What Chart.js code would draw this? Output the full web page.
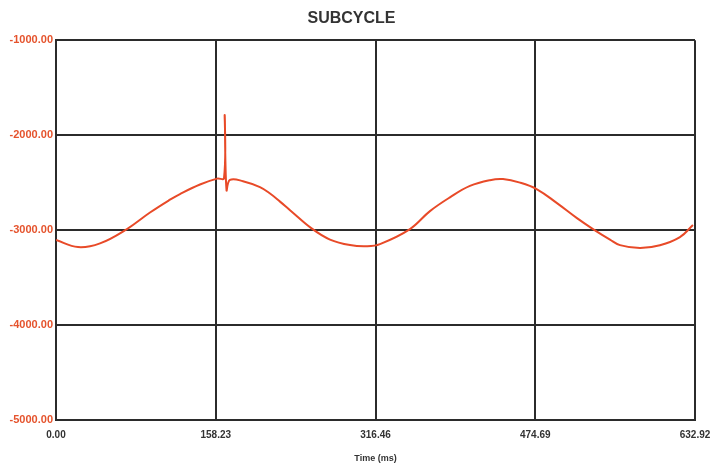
<!DOCTYPE html>
<html>
<head>
<meta charset="utf-8">
<script src="https://cdn.jsdelivr.net/npm/chart.js@4/dist/chart.umd.min.js"></script>
<style>
  html, body { margin: 0; padding: 0; background: #ffffff; }
  #wrap { width: 710px; height: 464px; position: relative; }
</style>
</head>
<body>
<div id="wrap"><canvas id="c" width="710" height="464"></canvas></div>
<script>
// Time (ms) and value samples
const timeMs = [0, 21.8, 43.6, 70.3, 93.1, 112.9, 122.8, 142.6, 159.5, 166.4, 167.1, 168.9, 172.3, 185.2, 202.0, 212.0, 221.9, 231.8, 253.5, 271.4, 291.2, 308.0, 320.9, 350.6, 370.4, 390.2, 410.0, 429.8, 442.7, 459.6, 476.4, 496.2, 516.0, 531.9, 548.7, 558.6, 578.4, 598.2, 618.0, 630.9];
const values = [-3105, -3179, -3140, -2989, -2815, -2680, -2620, -2520, -2458, -2452, -1789, -2579, -2472, -2485, -2548, -2615, -2700, -2790, -2985, -3100, -3158, -3170, -3147, -2989, -2800, -2655, -2535, -2474, -2463, -2500, -2570, -2716, -2874, -2989, -3100, -3158, -3189, -3160, -3074, -2947];
const xTicks = [0, 158.23, 316.46, 474.69, 632.92];
const yTicks = [-5000, -4000, -3000, -2000, -1000];

const points = timeMs.map((t, i) => ({ x: t, y: values[i] }));

new Chart(document.getElementById('c'), {
  type: 'line',
  data: {
    datasets: [{
      data: points,
      borderColor: '#e84a28',
      borderWidth: 2,
      pointRadius: 0,
      tension: 0.4,
      fill: false
    }]
  },
  options: {
    responsive: false,
    animation: false,
    layout: { padding: { left: 8, right: 15, top: 0, bottom: 0 } },
    plugins: {
      legend: { display: false },
      tooltip: { enabled: false },
      title: {
        display: true,
        text: 'SUBCYCLE',
        color: '#333333',
        font: { family: 'Liberation Sans', size: 16, weight: 'bold' },
        padding: { top: 9, bottom: 12 }
      }
    },
    scales: {
      x: {
        type: 'linear',
        min: xTicks[0],
        max: xTicks[xTicks.length - 1],
        afterBuildTicks: (s) => { s.ticks = xTicks.map(v => ({ value: v })); },
        ticks: {
          color: '#333333',
          font: { family: 'Liberation Sans', size: 10, weight: 'bold' },
          maxRotation: 0,
          padding: 9,
          callback: (v) => Number(v).toFixed(2)
        },
        grid: { color: '#2b2b2b', lineWidth: 2, drawTicks: false },
        border: { color: '#2b2b2b', width: 2 },
        title: {
          display: true,
          text: 'Time (ms)',
          color: '#333333',
          font: { family: 'Liberation Sans', size: 9, weight: 'bold' },
          padding: { top: 11, bottom: 0 }
        },
        afterFit: (s) => { s.height = 44; s.paddingRight = 0; s.paddingLeft = 0; }
      },
      y: {
        type: 'linear',
        min: yTicks[0],
        max: yTicks[yTicks.length - 1],
        afterBuildTicks: (s) => { s.ticks = yTicks.map(v => ({ value: v })); },
        ticks: {
          color: '#e5532d',
          font: { family: 'Liberation Sans', size: 11, weight: 'bold' },
          padding: 3,
          callback: (v) => Number(v).toFixed(2)
        },
        grid: { color: '#2b2b2b', lineWidth: 2, drawTicks: false },
        border: { color: '#2b2b2b', width: 2 },
        afterFit: (s) => { s.width = 48; }
      }
    }
  }
});
</script>
</body>
</html>
